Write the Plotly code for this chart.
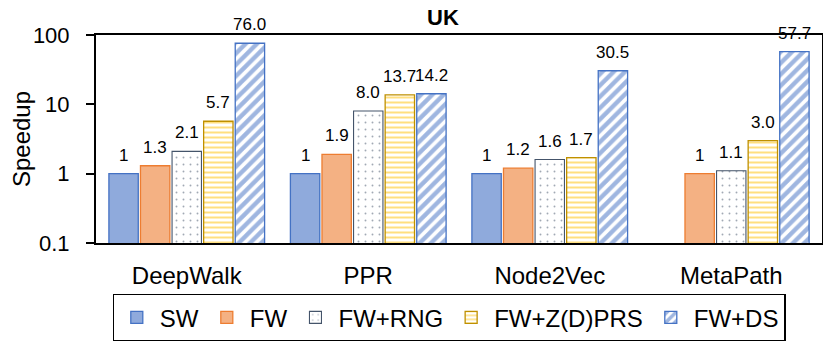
import math
import plotly.graph_objects as go

categories = ["DeepWalk", "PPR", "Node2Vec", "MetaPath"]
series_names = ["SW", "FW", "FW+RNG", "FW+Z(D)PRS", "FW+DS"]
sw = [1, 1, 1, None]
fw = [1.3, 1.9, 1.2, 1]
fw_rng = [2.1, 8.0, 1.6, 1.1]
fw_zprs = [5.7, 13.7, 1.7, 3.0]
fw_ds = [76.0, 14.2, 30.5, 57.7]
sw_text = ["1", "1", "1", ""]
fw_text = ["1.3", "1.9", "1.2", "1"]
rng_text = ["2.1", "8.0", "1.6", "1.1"]
zprs_text = ["5.7", "13.7", "1.7", "3.0"]
ds_text = ["76.0", "14.2", "30.5", "57.7"]

font = "Liberation Sans, Arial, sans-serif"

# the page body adds an 8px offset, so margins are shifted accordingly
W, H = 831, 344
L, R, T, B = 88, 17, 27, 109
BARGAP, GROUPGAP = 0.13, 0.07

styles = [
    dict(color="#8FAADC", line=dict(color="#4472C4", width=1.3)),
    dict(color="#F4B183", line=dict(color="#ED7D31", width=1.3)),
    dict(color="white", line=dict(color="#44546A", width=1.1),
         pattern=dict(shape=".", fgcolor="#44546A", bgcolor="white", size=7, solidity=0.06)),
    dict(color="white", line=dict(color="#BF9000", width=1.3),
         pattern=dict(shape="-", fgcolor="#FFC000", bgcolor="white", size=5, solidity=0.4)),
    dict(color="white", line=dict(color="#4472C4", width=1.3),
         pattern=dict(shape="/", fgcolor="#3F6DC2", bgcolor="white", size=8, solidity=0.55)),
]
values = [sw, fw, fw_rng, fw_zprs, fw_ds]
texts = [sw_text, fw_text, rng_text, zprs_text, ds_text]

fig = go.Figure()
for name, vals, st in zip(series_names, values, styles):
    fig.add_trace(go.Bar(x=categories, y=vals, name=name, marker=st))

# value labels above bars
slot = (W - L - R) / len(categories) * (1 - BARGAP) / len(series_names)
for i, (vals, txt) in enumerate(zip(values, texts)):
    for cat, v, t in zip(categories, vals, txt):
        if v is None:
            continue
        fig.add_annotation(
            x=cat, y=math.log10(v), text=t, showarrow=False,
            xshift=(i - 2) * slot, yshift=7, yanchor="bottom",
            font=dict(family=font, size=17, color="black"),
        )

fig.update_layout(
    width=W, height=H,
    margin=dict(l=L, r=R, t=T, b=B),
    paper_bgcolor="white", plot_bgcolor="white",
    barmode="group", bargap=BARGAP, bargroupgap=GROUPGAP,
    title=dict(text="<b>UK</b>", x=435 / W, xanchor="center", y=1 - 2 / H, yanchor="top",
               pad=dict(t=0, b=0), font=dict(family=font, size=22, color="black")),
    font=dict(family=font, size=22, color="black"),
    yaxis=dict(
        type="log", range=[-1, 2], tickvals=[0.1, 1, 10, 100],
        ticktext=["0.1", "1", "10", "100"], showgrid=False, automargin=False,
        showline=True, linecolor="black", linewidth=2, mirror=True,
        ticks="outside", ticklen=8, tickwidth=2, tickcolor="black",
        ticklabelstandoff=12,
        title=dict(text="Speedup", font=dict(size=24), standoff=8),
        tickfont=dict(size=22),
    ),
    xaxis=dict(
        showline=True, linecolor="black", linewidth=2, mirror=True, automargin=False,
        ticks="", tickfont=dict(size=24), ticklabelstandoff=10,
    ),
    legend=dict(
        orientation="h", xref="container", x=441 / W, xanchor="center",
        yref="container", y=1 - 286 / H, yanchor="top",
        bordercolor="black", borderwidth=1.3, font=dict(size=24),
        itemwidth=36, tracegroupgap=0,
    ),
)

fig.write_html("out.html")
